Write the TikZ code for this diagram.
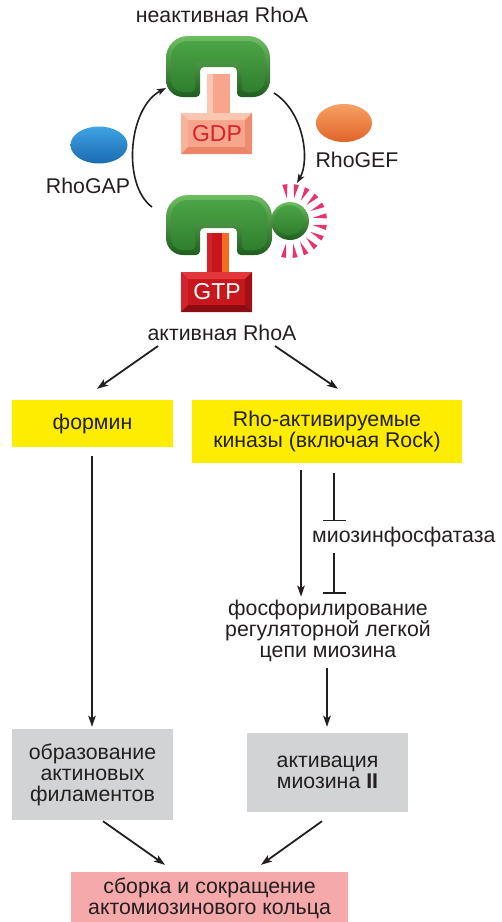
\documentclass[tikz,border=0pt]{standalone}
\usepackage{fontspec}
\setmainfont{Liberation Sans}
\usetikzlibrary{arrows.meta,shapes.geometric,calc}

\definecolor{ink}{HTML}{231F20}
\definecolor{boxyellow}{HTML}{FFED00}
\definecolor{boxgrey}{HTML}{D1D3D4}
\definecolor{boxpink}{HTML}{F6A9AB}
\definecolor{rimhi}{HTML}{6EBE62}
\definecolor{rimlo}{HTML}{1F5E1F}
\definecolor{facehi}{HTML}{4CA446}
\definecolor{facelo}{HTML}{2F7F2E}
\definecolor{raypink}{HTML}{E8336B}
\definecolor{gdpface}{HTML}{F7A58C}
\definecolor{gdptop}{HTML}{FCC6B3}
\definecolor{gdpleft}{HTML}{F9B29C}
\definecolor{gdpright}{HTML}{EE8C72}
\definecolor{gdpbottom}{HTML}{EC8468}
\definecolor{gdptext}{HTML}{D7232A}
\definecolor{gtpface}{HTML}{C8161D}
\definecolor{gtptop}{HTML}{E23A3C}
\definecolor{gtpleft}{HTML}{D2242A}
\definecolor{gtpright}{HTML}{A01017}
\definecolor{gtpbottom}{HTML}{8C0C12}
\definecolor{gtporange}{HTML}{F36C21}
\definecolor{gaptop}{HTML}{3FA3E2}
\definecolor{gapbottom}{HTML}{1B6BB2}
\definecolor{geftop}{HTML}{F8A064}
\definecolor{gefbottom}{HTML}{E06428}

\begin{document}
\begin{tikzpicture}[x=1pt,y=-1pt,
  font=\fontsize{21.3}{21}\selectfont, text=ink,
  arr/.style={draw=ink, line width=1.8pt, -{Stealth[length=11pt,width=7.5pt,inset=2.5pt]}},
  inhib/.style={draw=ink, line width=1.8pt, -{Bar[width=23pt,line width=1.8pt]}},
  cyc/.style={draw=ink, line width=1.6pt, -{Stealth[length=9pt,width=6.5pt,inset=2pt]}},
  pbox/.style={inner sep=0pt, align=center, anchor=center},
  rim/.style={top color=rimhi, bottom color=rimlo},
  face/.style={top color=facehi, bottom color=facelo},
  label/.style={inner sep=2pt, align=center}
]
\useasboundingbox (0,0) rectangle (502,922);
\fill[white] (0,0) rectangle (502,922);

% ---------- inactive RhoA with GDP ----------
\node[label] (inlbl) at (222,15) {неактивная RhoA};

% bevelled rim of the protein
\path[rim] (166,58) arc[start angle=180,end angle=270,radius=22] -- (248,36)
  arc[start angle=270,end angle=360,radius=22] -- (270,80)
  arc[start angle=0,end angle=90,radius=17] -- (241,97)
  arc[start angle=90,end angle=180,radius=4] -- (237,71)
  arc[start angle=0,end angle=-90,radius=4] -- (204,67)
  arc[start angle=270,end angle=180,radius=4] -- (200,93)
  arc[start angle=0,end angle=90,radius=4] -- (183,97)
  arc[start angle=90,end angle=180,radius=17] -- cycle;
% inner face
\path[face] (171,58) arc[start angle=180,end angle=270,radius=17] -- (248,41)
  arc[start angle=270,end angle=360,radius=17] -- (265,80)
  arc[start angle=0,end angle=90,radius=12] -- (246,92)
  arc[start angle=90,end angle=180,radius=4] -- (242,66)
  arc[start angle=0,end angle=-90,radius=4] -- (199,62)
  arc[start angle=270,end angle=180,radius=4] -- (195,88)
  arc[start angle=0,end angle=90,radius=4] -- (183,92)
  arc[start angle=90,end angle=180,radius=12] -- cycle;

% GDP stem and bevelled block
\fill[gdpface] (207,74) rectangle (230,113);
\fill[gdptop] (207,74) rectangle (213,113);
\fill[gdpface] (181,113) rectangle (252,154);
\fill[gdptop] (181,113) -- (252,113) -- (245,120) -- (188,120) -- cycle;
\fill[gdpleft] (181,113) -- (188,120) -- (188,147) -- (181,154) -- cycle;
\fill[gdpright] (252,113) -- (252,154) -- (245,147) -- (245,120) -- cycle;
\fill[gdpbottom] (181,154) -- (252,154) -- (245,147) -- (188,147) -- cycle;
\node[label, text=gdptext, font=\fontsize{23}{23}\selectfont] (gdp) at (217,134) {GDP};

% ---------- exchange factors ----------
\node[ellipse, minimum width=57pt, minimum height=37pt, inner sep=0pt,
      top color=gaptop, bottom color=gapbottom] (gap) at (99,145) {};
\node[label] (gaplbl) at (88,186) {RhoGAP};
\node[ellipse, minimum width=56pt, minimum height=38pt, inner sep=0pt,
      top color=geftop, bottom color=gefbottom] (gef) at (344,123) {};
\node[label] (geflbl) at (357,160) {RhoGEF};

% ---------- active RhoA with GTP ----------
\coordinate (sc) at (290,221);
\foreach \a in {100,82,...,-98}
  \fill[raypink] ($(sc)+(\a:23)$) -- ($(sc)+(\a-4:37)$) -- ($(sc)+(\a+4:37)$) -- cycle;

\path[rim] (166,217) arc[start angle=180,end angle=270,radius=22] -- (250,195)
  arc[start angle=270,end angle=360,radius=22] -- (272,238)
  arc[start angle=0,end angle=90,radius=17] -- (241,255)
  arc[start angle=90,end angle=180,radius=4] -- (237,232)
  arc[start angle=0,end angle=-90,radius=4] -- (204,228)
  arc[start angle=270,end angle=180,radius=4] -- (200,251)
  arc[start angle=0,end angle=90,radius=4] -- (183,255)
  arc[start angle=90,end angle=180,radius=17] -- cycle;
\path[face] (171,217) arc[start angle=180,end angle=270,radius=17] -- (250,200)
  arc[start angle=270,end angle=360,radius=17] -- (267,238)
  arc[start angle=0,end angle=90,radius=12] -- (246,250)
  arc[start angle=90,end angle=180,radius=4] -- (242,227)
  arc[start angle=0,end angle=-90,radius=4] -- (199,223)
  arc[start angle=270,end angle=180,radius=4] -- (195,246)
  arc[start angle=0,end angle=90,radius=4] -- (183,250)
  arc[start angle=90,end angle=180,radius=12] -- cycle;
\path[rim] (sc) circle[radius=19];
\path[face] (289,220) circle[radius=15];

% GTP stem and bevelled block
\fill[gtpface] (207,233) rectangle (229,272);
\fill[gtpleft] (207,233) rectangle (212,272);
\fill[gtporange] (222,233) rectangle (229,272);
\fill[gtpface] (181,272) rectangle (252,312);
\fill[gtptop] (181,272) -- (252,272) -- (245,279) -- (188,279) -- cycle;
\fill[gtpleft] (181,272) -- (188,279) -- (188,305) -- (181,312) -- cycle;
\fill[gtpright] (252,272) -- (252,312) -- (245,305) -- (245,279) -- cycle;
\fill[gtpbottom] (181,312) -- (252,312) -- (245,305) -- (188,305) -- cycle;
\node[label, text=white, font=\fontsize{23}{23}\selectfont] (gtp) at (217,292) {GTP};

\node[label] (actlbl) at (222,333) {активная RhoA};

% ---------- GDP/GTP cycle ----------
\coordinate (cycA) at (152,207);
\coordinate (cycB) at (166,88);
\coordinate (cycC) at (274,93);
\coordinate (cycD) at (297,183);
\draw[cyc] (cycA) .. controls (122,185) and (128,108) .. (cycB);
\draw[cyc] (cycC) .. controls (304,112) and (310,160) .. (cycD);

% ---------- effector boxes ----------
\node[pbox, fill=boxyellow, minimum width=161pt, minimum height=47pt] (formin) at (92.5,423.5) {формин};
\node[pbox, fill=boxyellow, minimum width=270pt, minimum height=63pt] (kin) at (327,431.5) {Rho-активируемые\\киназы (включая Rock)};

\draw[arr] ($(actlbl.south)+(-64,3)$) -- ($(formin.north)+(4.5,-11)$);
\draw[arr] ($(actlbl.south)+(53,3)$) -- ($(kin.north)+(11,-11)$);

\node[anchor=base west, inner sep=3pt] (mpp) at (309,542) {миозинфосфатаза};
\node[label, inner sep=3.3pt] (phos) at (328,631) {фосфорилирование\\регуляторной легкой\\цепи миозина};

\coordinate (kx) at (301,0);
\coordinate (ix) at (334,0);
\coordinate (fx) at (92,0);
\draw[arr, shorten <=7pt] (kin.south -| kx) -- (phos.north -| kx);
\draw[inhib, shorten <=10pt, shorten >=2pt] (kin.south -| ix) -- (mpp.north -| ix);
\draw[inhib, shorten <=3pt, shorten >=3pt] (mpp.south -| ix) -- (phos.north -| ix);

\node[pbox, fill=boxgrey, minimum width=161pt, minimum height=91pt] (actin) at (92.5,774.5) {образование\\актиновых\\филаментов};
\node[pbox, fill=boxgrey, minimum width=161pt, minimum height=79pt] (myo) at (327.5,772.5) {активация\\миозина \textbf{II}};
\node[pbox, fill=boxpink, minimum width=277pt, minimum height=52pt] (ring) at (209.5,898) {сборка и сокращение\\актомиозинового кольца};

\draw[arr, shorten <=9pt, shorten >=2pt] (formin.south -| fx) -- (actin.north -| fx);
\draw[arr, shorten <=3pt, shorten >=6pt] (phos.south -| 327,0) -- (myo.north -| 327,0);
\draw[arr] ($(actin.south)+(10.5,1)$) -- ($(ring.north)+(-44.5,-7)$);
\draw[arr] ($(myo.south)+(-5.5,9)$) -- ($(ring.north)+(51.5,-7)$);
\end{tikzpicture}
\end{document}
